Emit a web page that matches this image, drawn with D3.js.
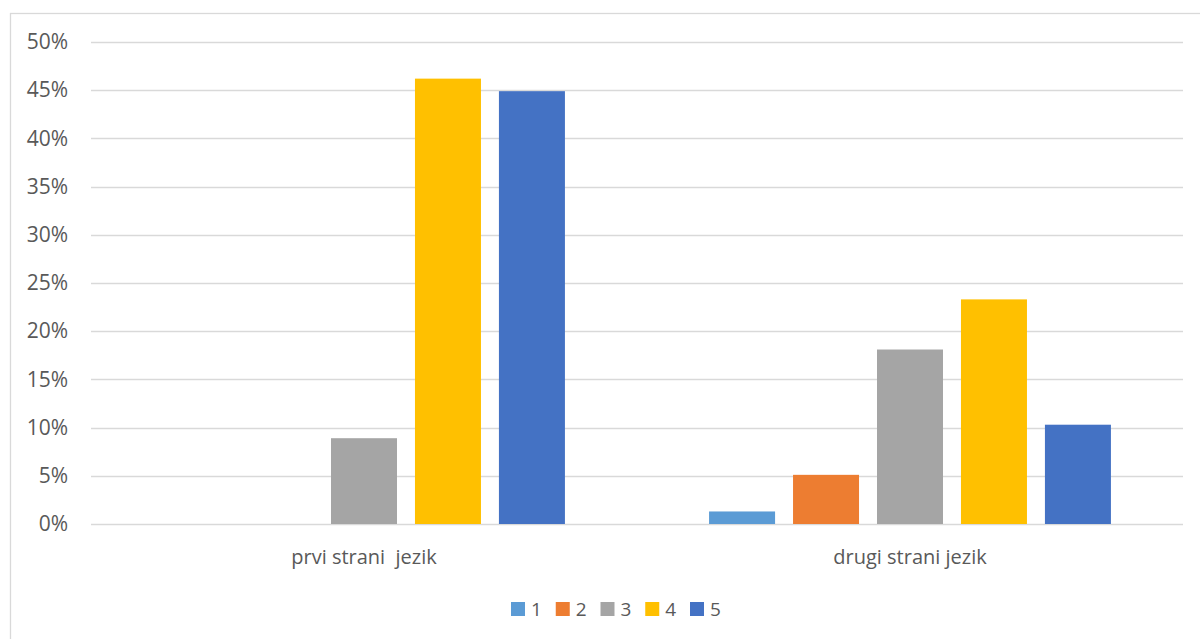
<!DOCTYPE html>
<html><head><meta charset="utf-8">
<script src="https://cdn.jsdelivr.net/npm/d3@7"></script>
<style>body{margin:0;background:#fff;}svg{display:block;}text{font-family:"Open Sans","Liberation Sans",sans-serif;fill:#595959;}</style>
</head><body>
<script>
const categories = ["prvi strani  jezik", "drugi strani jezik"];
const seriesNames = ["1", "2", "3", "4", "5"];
const colors = ["#5b9bd5", "#ed7d31", "#a5a5a5", "#ffc000", "#4472c4"];
const valuesPrvi = [0, 0, 0.089, 0.462, 0.449];
const valuesDrugi = [0.013, 0.051, 0.181, 0.233, 0.103];
const yTicks = [0, 0.05, 0.10, 0.15, 0.20, 0.25, 0.30, 0.35, 0.40, 0.45, 0.50];

const W = 1200, H = 639;
const svg = d3.select("body").append("svg").attr("width", W).attr("height", H);
svg.append("rect").attr("x", 10.5).attr("y", 13.5).attr("width", W).attr("height", H)
  .attr("fill", "#fff").attr("stroke", "#d9d9d9").attr("stroke-width", 1.3);

const plotL = 91, plotR = 1183, plotT = 42, plotB = 524;
const y = d3.scaleLinear().domain([0, 0.5]).range([plotB, plotT]);
const x0 = d3.scaleBand().domain(categories).range([plotL, plotR]).padding(0);
const bw = x0.bandwidth();
const x1 = d3.scaleBand().domain(seriesNames).range([bw * 0.132, bw * 0.868]).paddingInner(0.214).paddingOuter(0);

// gridlines
svg.append("g").selectAll("line").data(yTicks).join("line")
  .attr("x1", plotL).attr("x2", plotR)
  .attr("y1", d => Math.round(y(d)) + 0.5).attr("y2", d => Math.round(y(d)) + 0.5)
  .attr("stroke", "#d9d9d9").attr("stroke-width", 1.4);

// y axis labels
const yAxis = d3.axisLeft(y).tickValues(yTicks).tickFormat(d3.format(".0%")).tickSize(0).tickPadding(23);
const ga = svg.append("g").attr("transform", `translate(${plotL},0)`).call(yAxis);
ga.select(".domain").remove();
ga.selectAll("text").attr("font-size", 21).attr("fill", "#595959").attr("font-family", '"Open Sans",sans-serif');

// bars
const data = [valuesPrvi, valuesDrugi];
const groups = svg.append("g").selectAll("g").data(categories).join("g")
  .attr("transform", d => `translate(${x0(d)},0)`);
groups.selectAll("rect").data((c, i) => data[i].map((v, j) => ({ s: seriesNames[j], v, c: colors[j] })))
  .join("rect")
  .attr("x", d => x1(d.s)).attr("width", x1.bandwidth())
  .attr("y", d => y(d.v)).attr("height", d => y(0) - y(d.v))
  .attr("fill", d => d.c);

// x axis labels
const xAxis = d3.axisBottom(x0).tickSize(0).tickPadding(26);
const gx = svg.append("g").attr("transform", `translate(0,${plotB})`).call(xAxis);
gx.select(".domain").remove();
gx.selectAll("text").attr("font-size", 20).attr("fill", "#595959").attr("font-family", '"Open Sans",sans-serif').style("white-space", "pre");

// legend
const legX = d3.scalePoint().domain(seriesNames).range([511, 690]);
const lg = svg.append("g").selectAll("g").data(seriesNames).join("g")
  .attr("transform", d => `translate(${legX(d)},602)`);
lg.append("rect").attr("width", 14).attr("height", 14).attr("fill", (d, i) => colors[i]);
lg.append("text").attr("x", 20).attr("y", 14).attr("font-size", 19).text(d => d);
</script>
</body></html>
